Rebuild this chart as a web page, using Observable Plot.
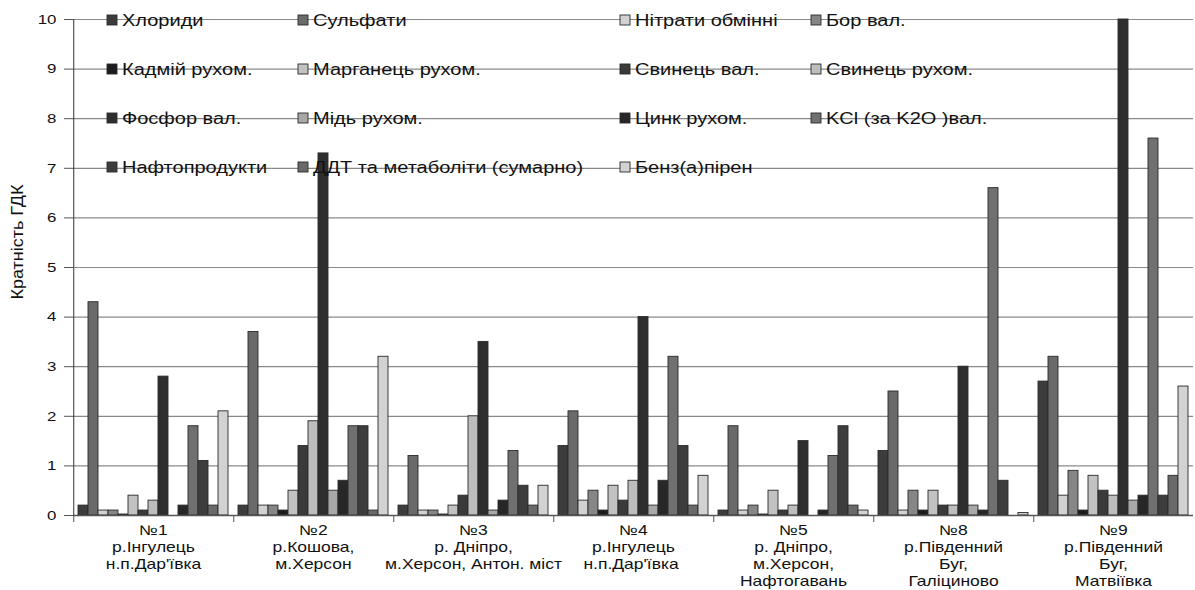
<!DOCTYPE html>
<html>
<head>
<meta charset="utf-8">
<script src="https://cdn.jsdelivr.net/npm/d3@7"></script>
<script src="https://cdn.jsdelivr.net/npm/@observablehq/plot@0.6"></script>
<style>
  html, body { margin: 0; padding: 0; background: #fff; }
  #chart { width: 1195px; height: 590px; }
</style>
</head>
<body>
<div id="chart"></div>
<script>
// Sites (x categories)
const sites = [
  "№1\nр.Інгулець\nн.п.Дар'ївка",
  "№2\nр.Кошова,\nм.Херсон",
  "№3\nр. Дніпро,\nм.Херсон, Антон. міст",
  "№4\nр.Інгулець\nн.п.Дар'ївка ",
  "№5\nр. Дніпро,\nм.Херсон,\nНафтогавань",
  "№8\nр.Південний\nБуг,\nГаліциново",
  "№9\nр.Південний\nБуг,\nМатвіївка"
];

// Series (legend order)
const seriesNames = [
  "Хлориди", "Сульфати", "Нітрати обмінні", "Бор вал.",
  "Кадмій рухом.", "Марганець рухом.", "Свинець вал.", "Свинець рухом.",
  "Фосфор вал.", "Мідь рухом.", "Цинк рухом.", "KCl (за K2O )вал.",
  "Нафтопродукти", "ДДТ та метаболіти (сумарно)", "Бенз(а)пірен"
];

const seriesColors = [
  "#3c3c3c", "#6a6a6a", "#d2d2d2", "#868686",
  "#1c1c1c", "#c2c2c2", "#3a3a3a", "#bdbdbd",
  "#2e2e2e", "#a8a8a8", "#272727", "#707070",
  "#3d3d3d", "#6a6a6a", "#d2d2d2"
];

// Values per site (in series order)
const site1 = [0.2, 4.3, 0.1, 0.1, 0.02, 0.4, 0.1, 0.3, 2.8, 0,   0.2, 1.8, 1.1, 0.2, 2.1];
const site2 = [0.2, 3.7, 0.2, 0.2, 0.1,  0.5, 1.4, 1.9, 7.3, 0.5, 0.7, 1.8, 1.8, 0.1, 3.2];
const site3 = [0.2, 1.2, 0.1, 0.1, 0.02, 0.2, 0.4, 2.0, 3.5, 0.1, 0.3, 1.3, 0.6, 0.2, 0.6];
const site4 = [1.4, 2.1, 0.3, 0.5, 0.1,  0.6, 0.3, 0.7, 4.0, 0.2, 0.7, 3.2, 1.4, 0.2, 0.8];
const site5 = [0.1, 1.8, 0.1, 0.2, 0.02, 0.5, 0.1, 0.2, 1.5, 0,   0.1, 1.2, 1.8, 0.2, 0.1];
const site8 = [1.3, 2.5, 0.1, 0.5, 0.1,  0.5, 0.2, 0.2, 3.0, 0.2, 0.1, 6.6, 0.7, 0,   0.05];
const site9 = [2.7, 3.2, 0.4, 0.9, 0.1,  0.8, 0.5, 0.4, 10,  0.3, 0.4, 7.6, 0.4, 0.8, 2.6];
const siteValues = [site1, site2, site3, site4, site5, site8, site9];

const yTicks = [0, 1, 2, 3, 4, 5, 6, 7, 8, 9, 10];

// Layout
const W = 1195, H = 590;
const mL = 72, mR = 2, mT = 19, mB = 75;
const padOuter = 0.47;
const facetW = (W - mL - mR) / sites.length;
const step = facetW / (seriesNames.length + 2 * padOuter);
const sepOffset = (padOuter + 0.5) * step;
const stretch = 1.25; // horizontal text stretch of the original picture

const data = [];
sites.forEach((s, i) => seriesNames.forEach((n, j) => data.push({site: s, series: n, value: siteValues[i][j]})));

const font = "'Liberation Sans', Arial, sans-serif";

const chart = Plot.plot({
  width: W, height: H,
  marginLeft: mL, marginRight: mR, marginTop: mT, marginBottom: mB,
  style: {fontFamily: font, fontSize: "14px", color: "#111", background: "#fff"},
  fx: {domain: sites, padding: 0, label: null},
  x: {domain: seriesNames, paddingInner: 0, paddingOuter: padOuter, axis: null},
  y: {domain: [0, 10], label: null},
  color: {domain: seriesNames, range: seriesColors},
  marks: [
    Plot.ruleY(yTicks.slice(1), {stroke: "#8a8a8a", strokeWidth: 1.2}),
    Plot.barY(data, {fx: "site", x: "series", y: "value", fill: "series", stroke: "#2b2b2b", strokeWidth: 0.9}),
    Plot.ruleY([0], {stroke: "#555", strokeWidth: 1.3}),
    Plot.ruleX(sites, {fx: d => d, x: () => seriesNames[0], dx: -sepOffset, y1: 0, y2: 0, insetBottom: -7, stroke: "#555"}),
    Plot.ruleX([sites[0]], {fx: d => d, x: () => seriesNames[0], dx: -sepOffset, y1: 0, y2: 10, stroke: "#333"}),
    Plot.axisY({ticks: yTicks, tickSize: 9, tickPadding: 8, label: null, fontSize: 13.5, stroke: "#555"}),
    Plot.axisFx({anchor: "bottom", tickSize: 0, tickPadding: 8, label: null, lineHeight: 1.2, fontSize: 14})
  ]
});

const svg = d3.select(chart);

// stretch axis tick labels horizontally about their anchor
svg.selectAll("g[aria-label$='tick label'] text").each(function() {
  const t = d3.select(this);
  const x = +t.attr("x") || 0;
  const tr = t.attr("transform") || "";
  t.attr("transform", `${tr} translate(${x},0) scale(${stretch},1) translate(${-x},0)`);
});

// Y-axis title
svg.append("text")
  .attr("transform", `translate(19,242) rotate(-90)`)
  .attr("text-anchor", "middle")
  .attr("dominant-baseline", "middle")
  .attr("font-family", font)
  .attr("font-size", 16)
  .attr("fill", "#111")
  .attr("textLength", 115)
  .attr("lengthAdjust", "spacingAndGlyphs")
  .text("Кратність ГДК");

// Legend inside plot area (4 columns)
const colX = [107, 298, 620, 811];
const rowY = [20, 69, 118, 167];
const lg = svg.append("g").attr("font-family", font).attr("font-size", 16).attr("fill", "#111").attr("text-anchor", "start");
seriesNames.forEach((n, i) => {
  const c = i % 4, r = Math.floor(i / 4);
  const g = lg.append("g").attr("transform", `translate(${colX[c]},${rowY[r]})`);
  g.append("rect").attr("x", 0).attr("y", -5).attr("width", 10).attr("height", 10)
    .attr("fill", seriesColors[i]).attr("stroke", "#2b2b2b").attr("stroke-width", 0.9);
  g.append("text").attr("transform", `translate(15,0) scale(${stretch},1)`).attr("dy", "0.35em").text(n);
});

document.getElementById("chart").appendChild(chart);
</script>
</body>
</html>
